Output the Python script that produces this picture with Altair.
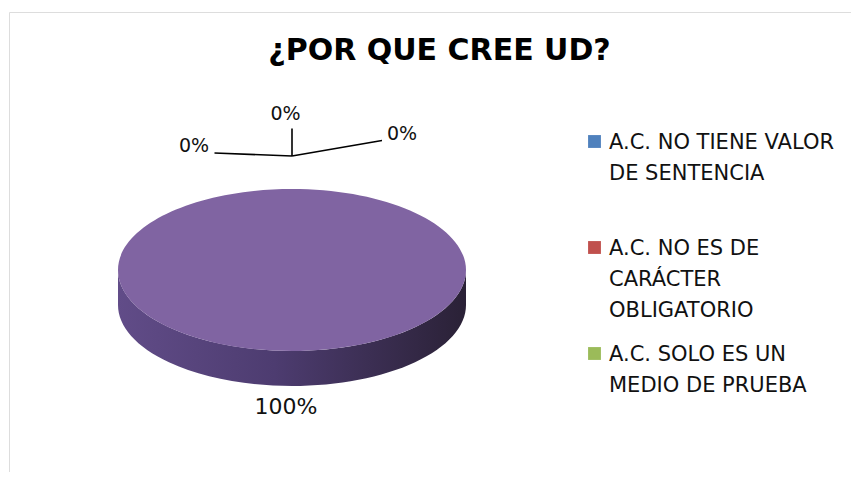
import altair as alt
import pandas as pd

# ---------------- data ----------------
categories = [
    "A.C. NO TIENE VALOR\nDE SENTENCIA",
    "A.C. NO ES DE\nCARÁCTER\nOBLIGATORIO",
    "A.C. SOLO ES UN\nMEDIO DE PRUEBA",
    "OTRO",
]
values = [0, 0, 0, 100]
colors = ["#4F81BD", "#C0504D", "#9BBB59", "#8064A2"]
legend_categories = categories[:3]
title_text = "¿POR QUE CREE UD?"

df = pd.DataFrame({"cat": categories, "value": values, "idx": list(range(len(categories)))})

# ---------------- layout (pixels) ----------------
W, H = 842, 460            # view = chart frame
PX = 174.0                 # pixels per unit radius (horizontal half-axis of the pie)
CX, CY = 283.0, 258.0      # pie centre inside the view
K = 81.0 / PX              # vertical squash of the 3-D top face
D = 35.0 / PX              # depth of the pie side
LEAD = 33.0 / PX           # distance from rim to leader-line junction
LOFF = 0.121               # distance of outside labels
SIZE = (2 * PX) ** 2       # symbol area so that unit path = PX pixels
LEG_SX, LEG_TX, LEG_Y0, LEG_STEP = 585.5, 600.0, 129.5, 106.0

xdom = [-CX / PX, (W - CX) / PX]
ydom = [-CY / PX, (H - CY) / PX]
xs = alt.Scale(domain=xdom, nice=False, zero=False)
ys = alt.Scale(domain=ydom, nice=False, zero=False, reverse=True)
cs = alt.Scale(domain=categories, range=colors)

FONT = "DejaVu Sans"
NSEG = 4


def f(e):
    # plain ASCII number (no unicode minus, no exponent)
    return f"(round(({e})*100000)/100000)"


def pt(t, dy=0.0):
    return f"{f(f'cos({t})')} + ',' + {f(f'{K}*sin({t}) + {dy}')}"


def seg(ta, tb, dy=0.0):
    h = f"((4/3)*tan(({tb}-{ta})/4))"
    c1x = f"cos({ta}) - {h}*sin({ta})"
    c1y = f"{K}*(sin({ta}) + {h}*cos({ta})) + {dy}"
    c2x = f"cos({tb}) + {h}*sin({tb})"
    c2y = f"{K}*(sin({tb}) - {h}*cos({tb})) + {dy}"
    return (f"'C' + {f(c1x)} + ',' + {f(c1y)} + ',' + {f(c2x)} + ',' + {f(c2y)}"
            f" + ',' + {pt(tb, dy)}")


t = [f"datum.t{j}" for j in range(NSEG + 1)]
u = [f"datum.u{j}" for j in range(NSEG + 1)]

top_expr = "'M0,0L' + " + pt(t[0]) + " + " + " + ".join(seg(t[j], t[j + 1]) for j in range(NSEG)) + " + 'Z'"
side_expr = (
    "datum.e > datum.s ? ('M' + " + pt(u[0]) + " + "
    + " + ".join(seg(u[j], u[j + 1]) for j in range(NSEG))
    + " + 'L' + " + pt(u[NSEG], D) + " + "
    + " + ".join(seg(u[j], u[j - 1], D) for j in range(NSEG, 0, -1))
    + " + 'Z') : 'M0,0Z'"
)

base = (
    alt.Chart(df)
    .transform_joinaggregate(total="sum(value)")
    .transform_window(cum="sum(value)", sort=[alt.SortField("idx")], frame=[None, 0])
    .transform_calculate(
        a0="-PI/2 + 2*PI*(datum.cum - datum.value)/datum.total",
        a1="-PI/2 + 2*PI*datum.cum/datum.total",
    )
    .transform_calculate(
        am="(datum.a0 + datum.a1)/2",
        s="max(datum.a0, 0)",
        e="min(datum.a1, PI)",
        pct="format(datum.value/datum.total, '.0%')",
    )
    .transform_calculate(
        **{f"t{j}": f"datum.a0 + (datum.a1 - datum.a0)*{j}/{NSEG}" for j in range(NSEG + 1)},
        **{f"u{j}": f"datum.s + (datum.e - datum.s)*{j}/{NSEG}" for j in range(NSEG + 1)},
    )
    .transform_calculate(
        top_path=top_expr,
        side_path=side_expr,
        ax="cos(datum.am)",
        ay=f"{K}*sin(datum.am) + {LEAD}*sin(datum.am)",
        lx="cos(datum.am)*1.0",
        ly=f"{K}*sin(datum.am) + (sin(datum.am) > 0 ? {D} : 0) + {LOFF}*sin(datum.am)",
        leg_sx=f"({LEG_SX} - {CX})/{PX}",
        leg_tx=f"({LEG_TX} - {CX})/{PX}",
        leg_y=f"({LEG_Y0} - {CY} + datum.idx*{LEG_STEP})/{PX}",
    )
)

side_gradient = {
    "gradient": "linear",
    "x1": 0, "y1": 0, "x2": 1, "y2": 0,
    "stops": [
        {"offset": 0.0, "color": "#614c88"},
        {"offset": 0.45, "color": "#4d3c70"},
        {"offset": 1.0, "color": "#2a2136"},
    ],
}

side = base.mark_point(filled=True, size=SIZE, strokeWidth=0, opacity=1, fill=side_gradient).encode(
    x=alt.datum(0, scale=xs, axis=None),
    y=alt.datum(0, scale=ys, axis=None),
    shape=alt.Shape("side_path:N", scale=None, legend=None),
)

top = base.mark_point(filled=True, size=SIZE, strokeWidth=0, opacity=1).encode(
    x=alt.datum(0, scale=xs, axis=None),
    y=alt.datum(0, scale=ys, axis=None),
    shape=alt.Shape("top_path:N", scale=None, legend=None),
    color=alt.Color("cat:N", scale=cs, legend=None),
)

# Excel's placement of the crowded 0% labels (pixel offsets from the leader junction)
zero_layout = [
    ((-77.5, -3.0), (-98.0, -10.5)),
    ((0.0, -27.5), (-6.5, -42.0)),
    ((90.0, -15.5), (110.0, -22.0)),
]

layers = [side, top]
for i, ((ox, oy), (tx, ty)) in enumerate(zero_layout):
    sel = base.transform_filter(alt.FieldEqualPredicate(field="idx", equal=i)).transform_filter("datum.value == 0")
    layers.append(
        sel.mark_rule(color="#000000", strokeWidth=1.6, x2Offset=ox, y2Offset=oy).encode(
            x=alt.X("ax:Q", scale=xs, axis=None),
            y=alt.Y("ay:Q", scale=ys, axis=None),
            x2="ax:Q",
            y2="ay:Q",
        )
    )
    layers.append(
        sel.mark_text(font=FONT, fontSize=19, color="#111111", dx=tx, dy=ty, align="center", baseline="middle").encode(
            x=alt.X("ax:Q", scale=xs, axis=None),
            y=alt.Y("ay:Q", scale=ys, axis=None),
            text="pct:N",
        )
    )

big_label = base.transform_filter("datum.value > 0").mark_text(
    font=FONT, fontSize=22, color="#111111", align="center", baseline="middle", dx=-6
).encode(
    x=alt.X("lx:Q", scale=xs, axis=None),
    y=alt.Y("ly:Q", scale=ys, axis=None),
    text="pct:N",
)
layers.append(big_label)

# legend drawn from the category list (Excel-style wrapped entries)
leg = base.transform_filter(alt.FieldOneOfPredicate(field="cat", oneOf=legend_categories))
leg_sym = leg.mark_point(shape="square", filled=True, size=165, strokeWidth=0, opacity=1).encode(
    x=alt.X("leg_sx:Q", scale=xs, axis=None),
    y=alt.Y("leg_y:Q", scale=ys, axis=None),
    color=alt.Color("cat:N", scale=cs, legend=None),
)
leg_txt = leg.mark_text(
    font=FONT, fontSize=21, color="#111111", align="left", baseline="alphabetic",
    lineBreak="\n", lineHeight=31, dy=7.5,
).encode(
    x=alt.X("leg_tx:Q", scale=xs, axis=None),
    y=alt.Y("leg_y:Q", scale=ys, axis=None),
    text="cat:N",
)
layers += [leg_sym, leg_txt]

chart = (
    alt.layer(*layers)
    .properties(
        width=W,
        height=H,
        padding={"left": 1, "top": 4, "right": 0, "bottom": 0},
        autosize=alt.AutoSizeParams(type="none"),
        title=alt.TitleParams(
            title_text,
            font=FONT,
            fontSize=30,
            fontWeight="bold",
            color="#000000",
            anchor="middle",
            frame="group",
            offset=0,
            baseline="alphabetic",
            dx=9.5,
            dy=78,
        ),
    )
    .configure_view(stroke="#808080", strokeWidth=2.5, strokeOpacity=1, strokeDash=[W, W + H, H + 4], fill="white")
    .configure(background="white")
)

chart.save("out.html", embed_options={"renderer": "svg", "actions": False})
